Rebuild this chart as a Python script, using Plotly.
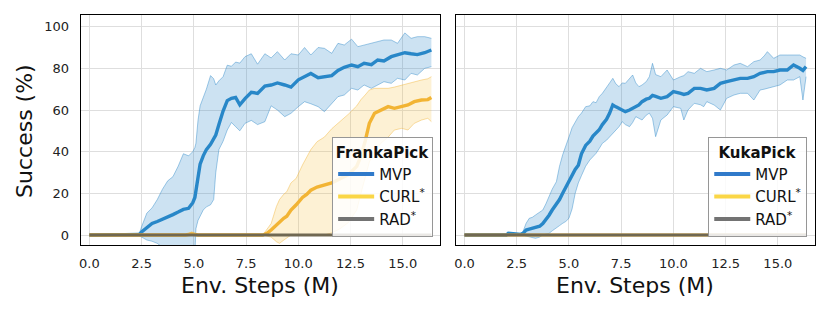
import plotly.graph_objects as go

# ---------------- data ----------------
# Left panel: FrankaPick
franka_mvp_x = [0, 1.5, 2.4, 2.5, 2.75, 3.0, 3.25, 3.5, 3.75, 4.0, 4.25, 4.5, 4.75, 4.95, 5.05, 5.1,
                5.2, 5.3, 5.45, 5.6, 5.8, 5.95, 6.05, 6.2, 6.4, 6.6, 6.8, 7.0, 7.2, 7.45, 7.75,
                8.05, 8.4, 8.7, 9.0, 9.35, 9.65, 10.0, 10.3, 10.6, 10.95, 11.25, 11.6, 11.9,
                12.2, 12.55, 12.85, 13.15, 13.5, 13.8, 14.1, 14.45, 14.75, 15.1, 15.4, 15.7,
                16.05, 16.37]
franka_mvp_mean = [0, 0, 0.3, 1.5, 3.5, 5.5, 6.5, 7.5, 8.5, 9.8, 11, 12.3, 12.8, 15.5, 18, 21,
                   28, 34, 38, 41, 43.5, 46.5, 48, 53, 59.5, 64.5, 65.6, 66, 62.5, 65.5, 68.5,
                   68, 71.5, 72, 73, 72, 71, 74.5, 76, 77.5, 75.5, 76, 76.5, 79,
                   80.5, 81.6, 80.8, 82.4, 81.8, 84, 83.5, 85.6, 86.4, 87.5, 87, 86.6,
                   87.5, 88.8]
franka_mvp_hi = [0, 0.5, 1, 4, 10.5, 13, 17, 22, 26, 28, 33, 39, 38, 40, 42, 44,
                 55, 62, 66, 70, 76.5, 75, 72, 74, 76, 81.5, 81, 83, 82.5, 85.6, 87,
                 82, 87, 85, 88, 84, 87, 86.4, 90, 86.4, 90, 89.6, 87.2, 92,
                 91.2, 94, 90.4, 91.2, 92, 92.8, 93.6, 93.6, 92, 97, 94.4, 95.2,
                 95.2, 94.4]
franka_mvp_lo = [0, -0.3, -0.5, -1, -2.4, -3, -4, -6, -8, -9, -9, -9, -9, -9, -9, 3,
                 7, 9, 12, 13.5, 14.5, 17, 30, 41, 45, 50.4, 54, 52, 50, 53.6, 55,
                 53, 54.4, 62, 60, 56.8, 58.4, 61.6, 64, 63, 61.6, 59.2, 63.2, 66.4,
                 67.2, 70.4, 69.6, 72, 70.4, 72, 73.6, 72.8, 75.2, 74.4, 77.6, 76.8,
                 80, 80.8]

franka_curl_x = [0, 4.6, 4.9, 5.2, 8.3, 8.5, 8.7, 8.95, 9.1, 9.3, 9.45, 9.65, 9.9, 10.2, 10.4,
                 10.6, 10.9, 11.25, 11.6, 12.0, 12.4, 12.8, 13.0, 13.2, 13.4, 13.65, 13.95,
                 14.3, 14.6, 14.95, 15.25, 15.55, 15.9, 16.2, 16.37]
franka_curl_mean = [0, 0, 0.5, 0, 0, 0.8, 2.4, 4.8, 6, 8, 9, 12, 14.5, 18, 19.5,
                    21.5, 23, 24, 25, 27, 29, 33, 38, 45, 53.6, 58.4, 60,
                    61.6, 60.8, 61.6, 62.4, 64, 64.8, 65, 66]
franka_curl_hi = [0, 0, 1.5, 0, 0, 3, 5.5, 13.6, 17, 19.5, 20.8, 25, 27.2, 33.6, 37,
                  41, 44.8, 47, 51, 54.5, 58, 62, 65, 67.2, 69.6, 70.4, 70.4,
                  70.4, 71, 72, 72.8, 73.5, 74.4, 75, 76]
franka_curl_lo = [0, 0, 0, 0, 0, -0.5, -1, -3.2, -4, -2.5, -1.6, 0, 0, 0, 0,
                  0, 0, 0, 1, 3, 6, 12, 20, 28, 35, 40, 44,
                  47, 50.4, 51.2, 50.4, 53.6, 55.2, 56, 54.4]

# Right panel: KukaPick
kuka_mvp_x = [0, 2.0, 2.1, 2.7, 2.8, 2.95, 3.1, 3.25, 3.4, 3.6, 3.75, 3.9, 4.05, 4.2, 4.4, 4.55,
              4.7, 4.85, 5.0, 5.15, 5.3, 5.45, 5.6, 5.8, 6.0, 6.15, 6.3, 6.45, 6.6, 6.8, 6.95,
              7.1, 7.25, 7.4, 7.55, 7.7, 7.9, 8.05, 8.2, 8.35, 8.5, 8.7, 8.85, 9.0, 9.15, 9.4,
              9.7, 10.0, 10.35, 10.5, 10.7, 11.0, 11.3, 11.45, 11.6, 11.95, 12.25, 12.55, 12.9,
              13.2, 13.55, 13.85, 14.15, 14.35, 14.5, 14.8, 15.1, 15.45, 15.75, 16.05, 16.2,
              16.35]
kuka_mvp_mean = [0, 0, 0.8, 0.3, 0.8, 2.4, 2.8, 3.2, 3.6, 4.2, 5.5, 7.2, 9.5, 12, 15, 17,
                 20, 23, 26, 29, 31.5, 33.5, 39, 43, 45, 47.5, 49, 50.5, 53, 55.5, 58.5,
                 62.4, 61.5, 60.8, 60, 59.2, 60, 60.8, 61.5, 62.4, 64, 65.2, 65.6, 67, 66.5, 65.6,
                 66.4, 68.8, 68, 67.5, 68, 70.4, 70.4, 70, 69.6, 70.4, 72.8, 73.6, 74.4,
                 75.2, 75.2, 76, 77.6, 78, 78.4, 78.4, 79.2, 79.2, 81.6, 80, 79,
                 80.8]
kuka_mvp_hi = [0, 0.3, 1.2, 0.5, 1.6, 5.6, 8, 8.5, 9.6, 11, 12, 15, 18.4, 22, 25.6, 33,
               38.5, 42.4, 47, 51.5, 54, 56.8, 58.5, 61.6, 62, 64, 63.5, 66.4, 68, 71.2, 73,
               75.2, 72.5, 71.2, 73, 72.8, 75, 76.8, 73, 71.2, 72, 73.6, 76, 82.4, 77, 76,
               79.2, 74.4, 76, 76.5, 78.4, 77.6, 80, 79, 78.4, 79.2, 80, 79.2, 81.6,
               82.4, 80.8, 83.2, 84, 86, 88, 84.8, 86.4, 86.4, 86.4, 86.4, 85.5,
               84.8]
kuka_mvp_lo = [0, 0, 0.3, 0, 0, -0.5, -0.8, -1.2, -1.6, -1, 0, 0.4, 0.8, 2, 3.2, 4.5,
               5.6, 6.5, 8, 12.5, 20, 25, 28.5, 33, 36, 37.5, 39.2, 41.5, 44, 45.5, 47.2,
               48.5, 50.4, 52, 54.4, 53, 52, 54, 56.8, 56, 55.2, 57.5, 58.5, 56, 47.2, 55.2,
               57.6, 61.6, 60.8, 55.2, 60, 63.2, 62.5, 61.6, 64, 62.4, 60, 65.6, 67.2,
               68, 68, 64.8, 69.6, 70, 70.4, 71.2, 72, 74.4, 74.4, 76, 64.8,
               76]

baseline_x = [0, 16.37]
baseline_y = [0, 0]

x_ticks = [0, 2.5, 5, 7.5, 10, 12.5, 15]
y_ticks = [0, 20, 40, 60, 80, 100]
panel_names = ["FrankaPick", "KukaPick"]
method_names = ["MVP", "CURL<sup>*</sup>", "RAD<sup>*</sup>"]

# ---------------- styling ----------------
W, H = 830, 312
BLUE = "rgb(40,135,200)"
BLUE_FILL = "rgba(43,135,200,0.24)"
BLUE_EDGE = "rgba(43,135,200,0.55)"
ORANGE = "rgb(242,180,52)"
ORANGE_FILL = "rgba(245,190,60,0.22)"
ORANGE_EDGE = "rgba(242,180,52,0.55)"
BASE = "rgb(112,104,82)"
LEG_COLORS = ["rgb(48,122,202)", "rgb(250,214,70)", "rgb(115,115,115)"]
FONT = "DejaVu Sans"

fig = go.Figure()

def band(xs, lo, hi, mean, fill, edge, line, xa, ya):
    fig.add_trace(go.Scatter(x=xs, y=lo, mode="lines", line=dict(color=edge, width=0.8),
                             showlegend=False, hoverinfo="skip", xaxis=xa, yaxis=ya))
    fig.add_trace(go.Scatter(x=xs, y=hi, mode="lines", line=dict(color=edge, width=0.8),
                             fill="tonexty", fillcolor=fill,
                             showlegend=False, hoverinfo="skip", xaxis=xa, yaxis=ya))
    fig.add_trace(go.Scatter(x=xs, y=mean, mode="lines", line=dict(color=line, width=3.4),
                             showlegend=False, xaxis=xa, yaxis=ya))

# left panel
band(franka_mvp_x, franka_mvp_lo, franka_mvp_hi, franka_mvp_mean, BLUE_FILL, BLUE_EDGE, BLUE, "x", "y")
band(franka_curl_x, franka_curl_lo, franka_curl_hi, franka_curl_mean, ORANGE_FILL, ORANGE_EDGE, ORANGE, "x", "y")
fig.add_trace(go.Scatter(x=baseline_x, y=baseline_y, mode="lines", line=dict(color=BASE, width=3),
                         showlegend=False, xaxis="x", yaxis="y"))
# right panel
band(kuka_mvp_x, kuka_mvp_lo, kuka_mvp_hi, kuka_mvp_mean, BLUE_FILL, BLUE_EDGE, BLUE, "x2", "y2")
fig.add_trace(go.Scatter(x=baseline_x, y=baseline_y, mode="lines", line=dict(color=ORANGE, width=3),
                         showlegend=False, xaxis="x2", yaxis="y2"))
fig.add_trace(go.Scatter(x=baseline_x, y=baseline_y, mode="lines", line=dict(color=BASE, width=3),
                         showlegend=False, xaxis="x2", yaxis="y2"))

# legend entries
for leg, xa, ya in [("legend", "x", "y"), ("legend2", "x2", "y2")]:
    for name, col in zip(method_names, LEG_COLORS):
        fig.add_trace(go.Scatter(x=[None], y=[None], mode="lines", name=name,
                                 line=dict(color=col, width=4), legend=leg,
                                 xaxis=xa, yaxis=ya))

xl = [79 / W, 439 / W]
xr = [455 / W, 815 / W]
yd = [(H - 245) / H, (H - 15) / H]

axis_common = dict(
    showline=True, linecolor="black", linewidth=1.3, mirror=True,
    showgrid=True, gridcolor="rgb(222,222,222)", gridwidth=1,
    zeroline=False, ticks="", tickfont=dict(family=FONT, size=13, color="#222"),
)
fig.update_layout(
    width=W, height=H, margin=dict(l=0, r=0, t=0, b=0),
    paper_bgcolor="white", plot_bgcolor="white",
    font=dict(family=FONT, color="#111"),
    xaxis=dict(domain=xl, range=[-0.41, 16.78], tickvals=x_ticks, tickformat=".1f",
               ticklabelstandoff=6, anchor="y", **axis_common),
    yaxis=dict(domain=yd, range=[-4.8, 105.6], tickvals=y_ticks, ticklabelstandoff=8,
               anchor="x", **axis_common),
    xaxis2=dict(domain=xr, range=[-0.41, 16.78], tickvals=x_ticks, tickformat=".1f",
                ticklabelstandoff=6, anchor="y2", **axis_common),
    yaxis2=dict(domain=yd, range=[-4.8, 105.6], tickvals=y_ticks, showticklabels=False,
                anchor="x2", **axis_common),
)

leg_common = dict(
    bgcolor="rgba(255,255,255,0.85)", bordercolor="rgb(150,150,150)", borderwidth=1.2,
    font=dict(family=FONT, size=15, color="#111"), itemwidth=36,
    xanchor="right", yanchor="bottom", tracegroupgap=0, traceorder="normal",
)
fig.update_layout(
    legend=dict(x=432 / W, y=(H - 237) / H,
                title=dict(text="<b>" + panel_names[0] + "</b>", side="top center",
                           font=dict(family=FONT, size=15)), **leg_common),
    legend2=dict(x=807 / W, y=(H - 237) / H,
                 title=dict(text="<b>" + panel_names[1] + "</b>", side="top center",
                            font=dict(family=FONT, size=15)), **leg_common),
)

# axis titles
for cx in [(xl[0] + xl[1]) / 2, (xr[0] + xr[1]) / 2]:
    fig.add_annotation(text="Env. Steps (M)", x=cx, y=(H - 285) / H, xref="paper", yref="paper",
                       showarrow=False, xanchor="center", yanchor="middle",
                       font=dict(family=FONT, size=22, color="#111"))
fig.add_annotation(text="Success (%)", x=23 / W, y=(H - 131) / H, xref="paper", yref="paper",
                   showarrow=False, xanchor="center", yanchor="middle", textangle=-90,
                   font=dict(family=FONT, size=22, color="#111"))

fig.write_html("out.html", config={"displayModeBar": False},
               post_script="document.body.style.margin='0';")
